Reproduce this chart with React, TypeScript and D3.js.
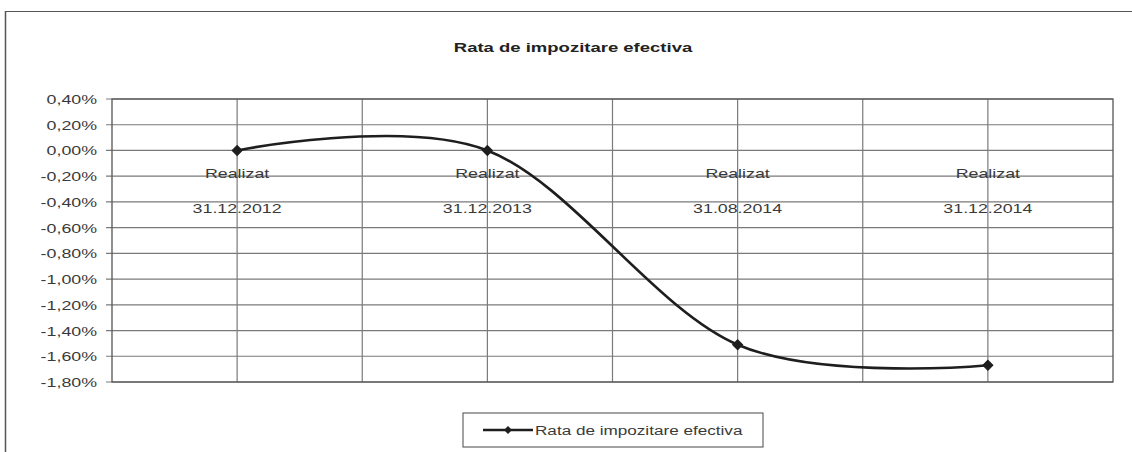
import React from "react";
import * as d3 from "d3";

const title = "Rata de impozitare efectiva";
const seriesName = "Rata de impozitare efectiva";
const categoryTop = ["Realizat", "Realizat", "Realizat", "Realizat"];
const categoryBottom = ["31.12.2012", "31.12.2013", "31.08.2014", "31.12.2014"];
const values = [0.0, 0.0, -1.51, -1.67];
const yTicks = [0.4, 0.2, 0, -0.2, -0.4, -0.6, -0.8, -1.0, -1.2, -1.4, -1.6, -1.8];

const W = 1132;
const H = 452;
const plot = { left: 112, right: 1113, top: 99, bottom: 382 };
const SX = 1.37;
const FONT = "'Liberation Sans', Arial, sans-serif";

function T(props: {
  x: number;
  y: number;
  anchor?: string;
  size?: number;
  weight?: string | number;
  fill?: string;
  children: React.ReactNode;
}) {
  const { x, y, anchor = "middle", size = 13.5, weight = "normal", fill = "#3a3a3a", children } = props;
  return (
    <text
      transform={`translate(${x},${y}) scale(${SX},1)`}
      textAnchor={anchor}
      fontFamily={FONT}
      fontSize={size}
      fontWeight={weight}
      fill={fill}
    >
      {children}
    </text>
  );
}

export default function App() {
  const cats = categoryBottom.map((d, i) => `${i}`);
  const x = d3.scaleBand<string>().domain(cats).range([plot.left, plot.right]).padding(0);
  const y = d3.scaleLinear().domain([-1.8, 0.4]).range([plot.bottom, plot.top]);
  const bw = x.bandwidth();
  const cx = (i: number) => (x(`${i}`) as number) + bw / 2;

  const line = d3
    .line<number>()
    .x((_, i) => cx(i))
    .y((d) => y(d))
    .curve(d3.curveCardinal.tension(0));

  const diamond = d3.symbol().type(d3.symbolSquare).size(50)();

  const fmt = (v: number) => {
    const s = Math.abs(v).toFixed(2).replace(".", ",") + "%";
    return v < -1e-9 ? "-" + s : s;
  };

  const vLines: number[] = [];
  cats.forEach((c, i) => {
    if (i > 0) vLines.push(x(c) as number);
    vLines.push(cx(i));
  });

  const legend = { x0: 463, x1: 763, y0: 413, y1: 447 };
  const legY = (legend.y0 + legend.y1) / 2;

  return (
    <svg width={W} height={H} style={{ position: "absolute", left: 0, top: 0, background: "#fff" }}>
      <rect x={0} y={0} width={W} height={H} fill="#fff" />
      {/* outer chart border (partially visible) */}
      <line x1={5} x2={W} y1={11.5} y2={11.5} stroke="#555" strokeWidth={1.2} />
      <line x1={5.5} x2={5.5} y1={11} y2={H} stroke="#555" strokeWidth={1.5} />

      <T x={573} y={52} size={13.5} weight="bold" fill="#222">
        {title}
      </T>

      {/* horizontal gridlines + tick marks */}
      {yTicks.map((t) => (
        <g key={`h${t}`}>
          <line x1={plot.left - 6} x2={plot.right} y1={y(t)} y2={y(t)} stroke="#7a7a7a" strokeWidth={1.2} />
          <T x={97} y={y(t) + 5} anchor="end" size={13}>
            {fmt(t)}
          </T>
        </g>
      ))}

      {/* vertical gridlines */}
      {vLines.map((v, i) => (
        <line key={`v${i}`} x1={v} x2={v} y1={plot.top} y2={plot.bottom} stroke="#7a7a7a" strokeWidth={1.2} />
      ))}

      {/* plot frame */}
      <rect
        x={plot.left}
        y={plot.top}
        width={plot.right - plot.left}
        height={plot.bottom - plot.top}
        fill="none"
        stroke="#555"
        strokeWidth={1.3}
      />

      {/* category labels inside plot */}
      {categoryBottom.map((c, i) => (
        <g key={`c${i}`}>
          <T x={cx(i)} y={178} size={13}>
            {categoryTop[i]}
          </T>
          <T x={cx(i)} y={213} size={13}>
            {c}
          </T>
        </g>
      ))}

      {/* series */}
      <path d={line(values) || ""} fill="none" stroke="#1e1e1e" strokeWidth={2.6} />
      {values.map((v, i) => (
        <path
          key={`m${i}`}
          d={diamond || ""}
          transform={`translate(${cx(i)},${y(v)}) rotate(45)`}
          fill="#1e1e1e"
          stroke="#1e1e1e"
          strokeWidth={1}
        />
      ))}

      {/* legend */}
      <rect
        x={legend.x0}
        y={legend.y0}
        width={legend.x1 - legend.x0}
        height={legend.y1 - legend.y0}
        fill="#fff"
        stroke="#666"
        strokeWidth={1.2}
      />
      <line x1={483} x2={533} y1={legY} y2={legY} stroke="#1e1e1e" strokeWidth={2.6} />
      <path d={d3.symbol().type(d3.symbolSquare).size(32)() || ""} transform={`translate(508,${legY}) rotate(45)`} fill="#1e1e1e" />
      <T x={535} y={legY + 4.5} anchor="start" size={12.5}>
        {seriesName}
      </T>
    </svg>
  );
}
